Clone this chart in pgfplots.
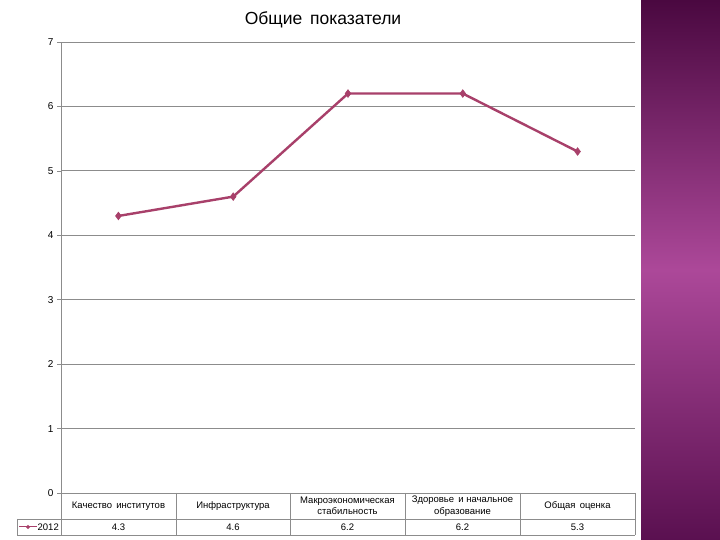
\documentclass[border=0pt]{standalone}
\usepackage{pgfplots}
\pgfplotsset{compat=1.18}
\usepackage{fontspec}
\setmainfont{Liberation Sans}
\definecolor{linered}{HTML}{A8406A}
\definecolor{gridgray}{HTML}{8C8C8C}
\definecolor{purpletop}{HTML}{4A0840}
\definecolor{purplemid}{HTML}{AC4899}
\definecolor{purplebot}{HTML}{5A1050}

\begin{document}
\begin{tikzpicture}[x=1pt,y=1pt]
% page and side strip
\fill[white] (0,0) rectangle (720,540);
\shade[top color=purpletop, bottom color=purplebot, middle color=purplemid] (641,0) rectangle (720,540);

\begin{axis}[
    at={(61pt,47pt)}, anchor=south west,
    scale only axis,
    width=574pt, height=451pt,
    xmin=0.5, xmax=5.5,
    ymin=0, ymax=7,
    ytick={0,1,...,7},
    xtick=\empty,
    axis lines*=left,
    axis line style={gridgray, line width=0.8pt},
    ymajorgrids=true,
    grid style={gridgray, line width=0.8pt},
    tick align=outside,
    major tick length=4pt,
    ytick style={gridgray, line width=0.6pt},
    yticklabel style={font=\fontsize{10}{11}\selectfont, text=black},
    /pgf/number format/assume math mode=true,
    clip=false,
]
\addplot[linered, line width=2.4pt, mark=diamond*, mark size=3.8pt,
    mark options={fill=linered, line width=0.6pt}]
    coordinates {(1,4.3) (2,4.6) (3,6.2) (4,6.2) (5,5.3)};
\end{axis}

% title
\node[font=\fontsize{17.5}{19}\selectfont] at (323,520) {Общие \,показатели};

% data table
\begin{scope}[gridgray, line width=0.8pt]
\draw (61,47) -- (635,47);
\draw (17,21) -- (635,21);
\draw (17,5) -- (635,5);
\draw (17,21) -- (17,5);
\draw (61,47) -- (61,5);
\foreach \xx in {176,290,405,520,635} \draw (\xx,47) -- (\xx,5);
\end{scope}

\begin{scope}[font=\fontsize{9.5}{11.5}\selectfont, align=center]
\node at (118.5,34) {Качество \,институтов};
\node at (233,34) {Инфраструктура};
\node at (347.5,34) {Макроэкономическая\\стабильность};
\node at (462.5,34) {Здоровье \,и начальное\\образование};
\node at (577.5,34) {Общая \,оценка};
\node at (118.5,13) {4.3};
\node at (233,13) {4.6};
\node at (347.5,13) {6.2};
\node at (462.5,13) {6.2};
\node at (577.5,13) {5.3};
\node[anchor=east, inner sep=0pt] at (59,13) {2012};
\end{scope}
\draw[linered, line width=1pt] (19,13) -- (37,13);
\fill[linered] (28,15.2) -- (30.2,13) -- (28,10.8) -- (25.8,13) -- cycle;
\end{tikzpicture}
\end{document}
